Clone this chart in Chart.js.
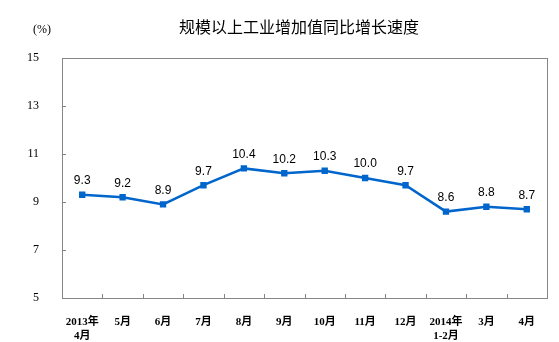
<!DOCTYPE html>
<html>
<head>
<meta charset="utf-8">
<script src="https://cdn.jsdelivr.net/npm/chart.js@4.4.0/dist/chart.umd.min.js"></script>
<style>
  html, body { margin: 0; padding: 0; background: #fff; }
  #wrap { width: 559px; height: 342px; position: relative; }
</style>
</head>
<body>
<div id="wrap"><canvas id="myChart" width="559" height="342"></canvas></div>
<script>
let myLabels = [['2013年', '4月'], '5月', '6月', '7月', '8月', '9月', '10月', '11月', '12月', ['2014年', '1-2月'], '3月', '4月'];
let myData = [9.3, 9.2, 8.9, 9.7, 10.4, 10.2, 10.3, 10.0, 9.7, 8.6, 8.8, 8.7];
let yTicks = [5, 7, 9, 11, 13, 15];
let myTitle = '规模以上工业增加值同比增长速度';

let axisColor = '#868686';
let lineColor = '#0066CC';

// box, inner tick marks, title, unit and value labels
let decorations = {
    id: 'decorations',
    afterDraw(chart) {
        let c = chart.ctx;
        let a = chart.chartArea;
        let xs = chart.scales.x;
        let ys = chart.scales.y;
        c.save();
        c.strokeStyle = axisColor;
        c.lineWidth = 1;
        c.strokeRect(Math.round(a.left) + 0.5, Math.round(a.top) + 0.5,
            Math.round(a.right - a.left), Math.round(a.bottom - a.top));
        c.beginPath();
        for (let i = 1; i < myLabels.length; i++) {
            let x = Math.round((xs.getPixelForValue(i - 1) + xs.getPixelForValue(i)) / 2) + 0.5;
            c.moveTo(x, a.bottom);
            c.lineTo(x, a.bottom - 4);
        }
        yTicks.forEach(v => {
            let y = Math.round(ys.getPixelForValue(v)) + 0.5;
            c.moveTo(a.left, y);
            c.lineTo(a.left + 4, y);
        });
        c.stroke();

        c.fillStyle = '#000';
        c.textAlign = 'center';
        c.textBaseline = 'middle';
        c.font = '16px "Noto Sans CJK SC"';
        c.fillText(myTitle, 299, 27);
        c.font = '12px "Liberation Serif", "Noto Sans CJK SC"';
        c.fillText('(%)', 42, 30);

        c.font = '12px "Liberation Sans"';
        let meta = chart.getDatasetMeta(0);
        meta.data.forEach((pt, i) => {
            c.fillText(myData[i].toFixed(1), pt.x, pt.y - 14);
        });
        c.restore();
    }
};

let ctx = document.getElementById('myChart').getContext('2d');
let myChart = new Chart(ctx, {
    type: 'line',
    data: {
        labels: myLabels,
        datasets: [{
            data: myData,
            borderColor: lineColor,
            backgroundColor: lineColor,
            borderWidth: 2.5,
            pointStyle: 'rect',
            pointRadius: 4.5,
            pointBorderWidth: 0,
            tension: 0
        }]
    },
    options: {
        responsive: false,
        animation: false,
        layout: { padding: { top: 58, right: 12, bottom: 0, left: 0 } },
        plugins: {
            legend: { display: false },
            tooltip: { enabled: false }
        },
        scales: {
            x: {
                offset: true,
                grid: { display: false },
                border: { display: false },
                ticks: {
                    color: '#000',
                    padding: 10,
                    maxRotation: 0,
                    autoSkip: false,
                    font: { family: '"Liberation Serif", "Noto Sans CJK SC"', size: 11, weight: 'bold' }
                },
                afterFit(scale) { scale.height = 44; }
            },
            y: {
                min: 5,
                max: 15,
                grid: { display: false },
                border: { display: false },
                afterBuildTicks(scale) { scale.ticks = yTicks.map(v => ({ value: v })); },
                ticks: {
                    color: '#000',
                    padding: 15,
                    font: { family: '"Liberation Serif"', size: 12 }
                },
                afterFit(scale) { scale.width = 62; }
            }
        }
    },
    plugins: [decorations]
});
</script>
</body>
</html>
